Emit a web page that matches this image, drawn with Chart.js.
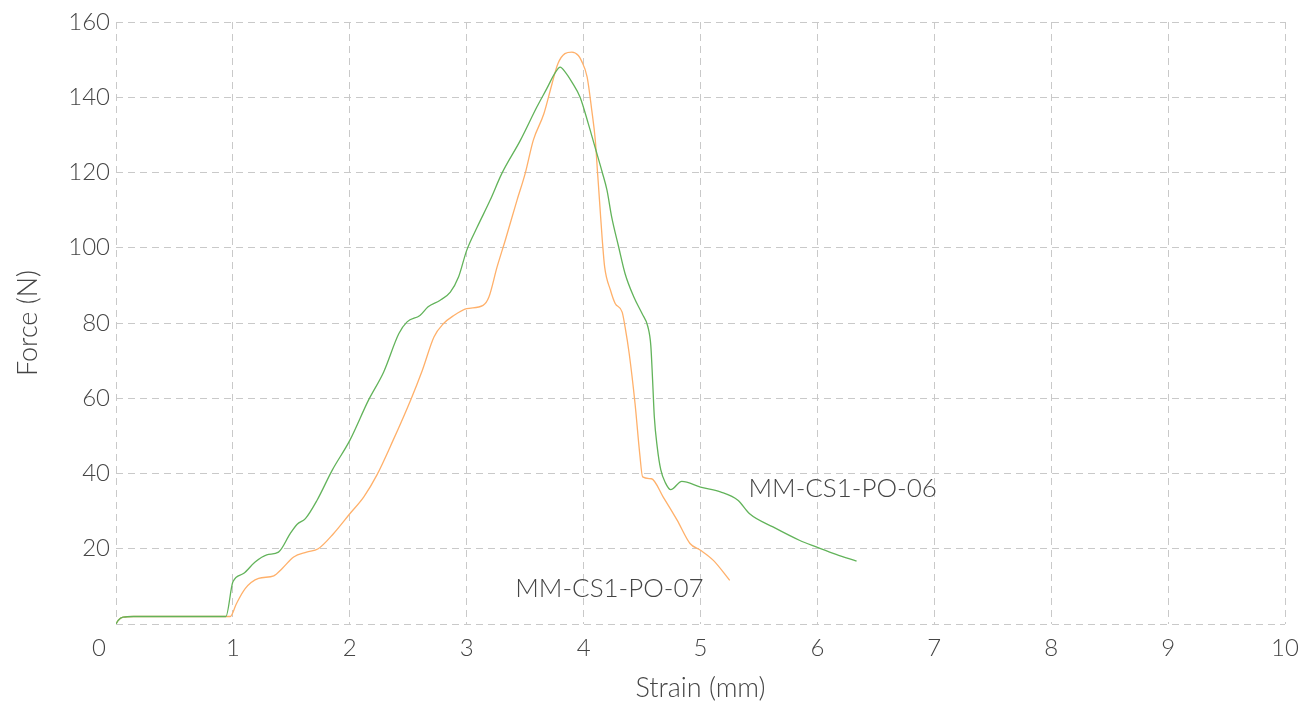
<!DOCTYPE html>
<html>
<head>
<meta charset="utf-8">
<script src="https://cdn.jsdelivr.net/npm/chart.js@4.4.1/dist/chart.umd.min.js"></script>
<style>
  html, body { margin: 0; padding: 0; background: #fff; }
  #wrap { width: 1313px; height: 705px; position: relative; }
</style>
</head>
<body>
<div id="wrap"><canvas id="c" width="1313" height="705"></canvas></div>
<script>
// Specimen MM-CS1-PO-06: strain (mm) and force (N)
const po06Strain = [0, 0.02, 0.06, 0.15, 0.5, 0.94, 1.0, 1.09, 1.19, 1.29, 1.39, 1.49, 1.55, 1.62, 1.72, 1.85, 2.0, 2.16, 2.29, 2.42, 2.49, 2.60, 2.67, 2.77, 2.86, 2.93, 3.0, 3.09, 3.2, 3.30, 3.46, 3.60, 3.685, 3.76, 3.80, 3.84, 3.90, 3.97, 4.04, 4.10, 4.16, 4.20, 4.24, 4.30, 4.355, 4.43, 4.50, 4.55, 4.575, 4.59, 4.605, 4.63, 4.66, 4.70, 4.745, 4.84, 5.0, 5.17, 5.32, 5.42, 5.62, 5.85, 5.99, 6.16, 6.335];
const po06Force  = [0, 1.0, 1.8, 2.0, 2.0, 2.0, 11.2, 13.4, 16.5, 18.4, 19.1, 24.0, 26.5, 28.0, 32.9, 40.9, 48.8, 59.5, 67.0, 77.2, 80.3, 82.0, 84.3, 86.0, 88.2, 92.2, 99.3, 105.5, 112.6, 119.7, 128.6, 137.4, 142.3, 146.7, 148.0, 146.8, 144.0, 140.0, 133.0, 126.5, 120.0, 115.3, 108.2, 100.2, 93.1, 86.9, 82.5, 79.0, 74.0, 65.0, 55.0, 47.0, 41.0, 37.5, 35.7, 37.9, 36.4, 35.1, 32.9, 29.3, 25.8, 22.2, 20.5, 18.5, 16.7];

// Specimen MM-CS1-PO-07: strain (mm) and force (N)
const po07Strain = [0, 0.02, 0.06, 0.15, 0.5, 0.977, 1.03, 1.105, 1.22, 1.35, 1.42, 1.52, 1.63, 1.73, 1.86, 2.0, 2.12, 2.23, 2.37, 2.52, 2.62, 2.72, 2.80, 2.89, 3.0, 3.14, 3.19, 3.26, 3.33, 3.43, 3.50, 3.57, 3.66, 3.73, 3.78, 3.84, 3.90, 3.955, 3.98, 4.03, 4.07, 4.10, 4.12, 4.14, 4.16, 4.18, 4.23, 4.27, 4.33, 4.355, 4.39, 4.44, 4.48, 4.505, 4.58, 4.68, 4.80, 4.91, 5.0, 5.11, 5.25];
const po07Force  = [0, 1.0, 1.8, 2.0, 2.0, 2.0, 5.4, 9.4, 12.1, 12.8, 14.7, 17.8, 19.1, 20.0, 24.0, 29.3, 33.8, 39.5, 48.8, 59.5, 67.4, 76.3, 79.8, 82.0, 83.8, 84.7, 86.9, 94.9, 102.0, 112.6, 119.7, 128.6, 135.6, 143.6, 148.9, 151.6, 152.0, 151.1, 149.8, 145.4, 136.5, 128.6, 119.7, 110.8, 102.0, 94.9, 88.7, 85.2, 82.9, 78.9, 71.9, 58.6, 45.3, 39.1, 38.6, 33.8, 27.6, 21.4, 19.6, 16.9, 11.6];

// Series names, and where each name is written (strain, force)
const seriesNames = ['MM-CS1-PO-06', 'MM-CS1-PO-07'];
const nameAnchorStrain = [5.41, 3.415];
const nameAnchorForce  = [36.1, 9.5];

// Axis ranges and tick spacing
const strainTicks = [0, 10, 1];
const forceTicks  = [0, 160, 20];

const toPoints = (xs, ys) => xs.map((x, i) => ({ x: x, y: ys[i] }));

const FONT = 'Lato, "Open Sans", sans-serif';
const TEXT = '#454545';
const GREEN = '#62b35a';
const ORANGE = '#ffb06a';

// Writes the series names next to their curves, and the shared origin "0"
const labelsPlugin = {
  id: 'seriesLabels',
  afterDatasetsDraw(chart) {
    const ctx = chart.ctx;
    const xs = chart.scales.x, ys = chart.scales.y;
    ctx.save();
    ctx.fillStyle = TEXT;
    ctx.font = '300 26px ' + FONT;
    ctx.textAlign = 'left';
    ctx.textBaseline = 'middle';
    seriesNames.forEach((name, i) => {
      ctx.fillText(name, xs.getPixelForValue(nameAnchorStrain[i]), ys.getPixelForValue(nameAnchorForce[i]));
    });
    ctx.font = '300 24px ' + FONT;
    ctx.textAlign = 'center';
    ctx.fillText('0', xs.left - 17, ys.bottom + 24);
    ctx.restore();
  }
};

const gridOpts = { color: '#c9c9c9', lineWidth: 1, drawTicks: false };
const borderOpts = { display: false, dash: [7, 5] };

new Chart(document.getElementById('c'), {
  type: 'scatter',
  data: {
    datasets: [
      {
        label: seriesNames[0],
        data: toPoints(po06Strain, po06Force),
        showLine: true,
        borderColor: GREEN,
        borderWidth: 1.3,
        pointRadius: 0,
        cubicInterpolationMode: 'monotone'
      },
      {
        label: seriesNames[1],
        data: toPoints(po07Strain, po07Force),
        showLine: true,
        borderColor: ORANGE,
        borderWidth: 1.3,
        pointRadius: 0,
        cubicInterpolationMode: 'monotone'
      }
    ]
  },
  options: {
    responsive: false,
    animation: false,
    layout: { padding: { top: 22, right: 28, left: 0, bottom: 0 } },
    plugins: { legend: { display: false }, tooltip: { enabled: false } },
    scales: {
      x: {
        type: 'linear',
        min: strainTicks[0], max: strainTicks[1],
        grid: gridOpts,
        border: borderOpts,
        ticks: {
          stepSize: strainTicks[2],
          padding: 10,
          color: TEXT,
          font: { family: FONT, size: 24, weight: '300' },
          callback: v => (v === 0 ? '' : String(v))
        },
        title: {
          display: true,
          text: 'Strain (mm)',
          color: TEXT,
          font: { family: FONT, size: 27, weight: '300' },
          padding: { top: 2, bottom: 1 }
        },
        afterFit(scale) { scale.height = 81; }
      },
      y: {
        type: 'linear',
        min: forceTicks[0], max: forceTicks[1],
        grid: gridOpts,
        border: borderOpts,
        ticks: {
          stepSize: forceTicks[2],
          padding: 6,
          color: TEXT,
          font: { family: FONT, size: 24, weight: '300' },
          callback: v => (v === 0 ? '' : String(v))
        },
        title: {
          display: true,
          text: 'Force (N)',
          color: TEXT,
          font: { family: FONT, size: 27, weight: '300' },
          padding: { top: 12, bottom: 2 }
        },
        afterFit(scale) { scale.width = 116; }
      }
    }
  },
  plugins: [labelsPlugin]
});
</script>
</body>
</html>
